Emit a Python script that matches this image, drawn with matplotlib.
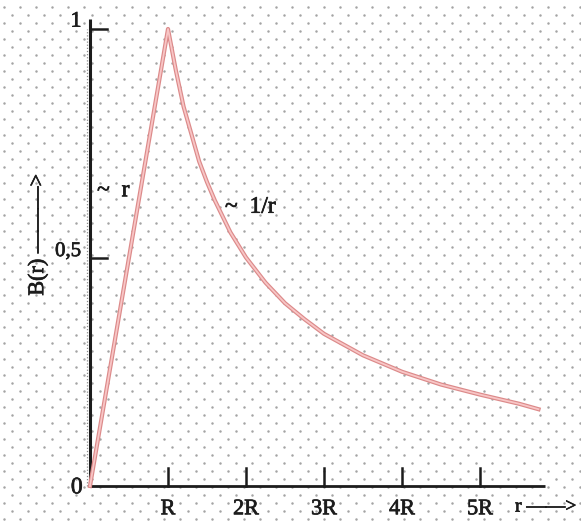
import matplotlib
matplotlib.use("Agg")
import matplotlib.pyplot as plt
import matplotlib.patheffects as pe
import numpy as np

# field strength of a long straight conductor, inside (~r) and outside (~1/r)
r_vals = [0.0, 1.0, 1.1, 1.2, 1.3, 1.4, 1.5, 1.6, 1.8, 2.0, 2.25, 2.5, 2.75,
          3.0, 3.5, 4.0, 4.5, 5.0, 5.5, 5.75]
b_vals = [0.0, 1.0, 0.91, 0.83, 0.77, 0.71, 0.665, 0.625, 0.555, 0.5, 0.445,
          0.4, 0.365, 0.333, 0.286, 0.25, 0.222, 0.2, 0.18, 0.168]

x_ticks = [1, 2, 3, 4, 5]
x_labels = ["R", "2R", "3R", "4R", "5R"]
y_ticks = [0.5, 1.0]

W, H = 581, 527
fig = plt.figure(figsize=(W / 100, H / 100), dpi=100)

# dotted paper background
bg = fig.add_axes([0, 0, 1, 1], zorder=0)
bg.set_xlim(0, W)
bg.set_ylim(H, 0)
bg.axis("off")
dx, dy = [], []
for j, y in enumerate(np.arange(7, H, 8)):
    start = 4 if j % 2 == 0 else 12
    for x in np.arange(start, W, 16):
        dx.append(x)
        dy.append(y)
bg.scatter(dx, dy, s=3.2, color="#a4a4a4", linewidths=0)

ax = fig.add_axes([0, 0, 1, 1], zorder=1)
ax.patch.set_alpha(0)
ax.axis("off")
# origin sits at pixel (90, 486); 78 px per R, 457 px per unit of B
ax.set_xlim(-90 / 78, (W - 90) / 78)
ax.set_ylim(-(H - 486) / 457, 486 / 457)

serif = "Liberation Serif"
ink = "#1c1c1c"
heavy = [pe.withStroke(linewidth=0.5, foreground=ink)]

# axes
ax.plot([0, 5.83], [0, 0], color=ink, lw=2.0, solid_capstyle="butt", zorder=3)
ax.plot([0, 0], [0, 1.022], color=ink, lw=2.2, solid_capstyle="butt", zorder=3)
ax.plot([-0.04, -0.04], [0.0, 1.0], color="#8a8a8a", lw=0.9,
        linestyle=(0, (1, 1.5)), zorder=2)

for xt, lab in zip(x_ticks, x_labels):
    ax.plot([xt, xt], [0, 0.04], color=ink, lw=1.8, zorder=3)
    ax.text(xt, -0.052, lab, family=serif, fontsize=16, color=ink,
            ha="center", va="center", path_effects=heavy)

for yt in y_ticks:
    ax.plot([0, 0.22], [yt, yt], color=ink, lw=1.8, zorder=3)
ax.text(-0.18, 1.015, "1", family=serif, fontsize=16, color=ink,
        ha="center", va="center", path_effects=heavy)
ax.text(-0.28, 0.513, "0,5", family=serif, fontsize=15, color=ink,
        ha="center", va="center", path_effects=heavy)
ax.text(-0.17, -0.004, "0", family=serif, fontsize=17, color=ink,
        ha="center", va="center", path_effects=heavy)

# the curve: darker rim with a pale core
ax.plot(r_vals, b_vals, color="#dc8a8a", lw=3.0, zorder=4, solid_joinstyle="round")
ax.plot(r_vals, b_vals, color="#f8c6c6", lw=1.3, zorder=5, solid_joinstyle="round")

ax.text(0.09, 0.646, "~  r", family=serif, fontsize=17, color=ink,
        ha="left", va="center", path_effects=heavy)
ax.text(1.73, 0.61, "~  1/r", family=serif, fontsize=17, color=ink,
        ha="left", va="center", path_effects=heavy)
ax.text(5.45, -0.046, "r ——>", family=serif, fontsize=14, color=ink,
        ha="left", va="center", path_effects=heavy)
ax.text(-0.66, 0.55, "B(r) ———>", family=serif, fontsize=16, color=ink,
        rotation=90, ha="center", va="center", path_effects=heavy)

fig.savefig("out.png", dpi=100)
